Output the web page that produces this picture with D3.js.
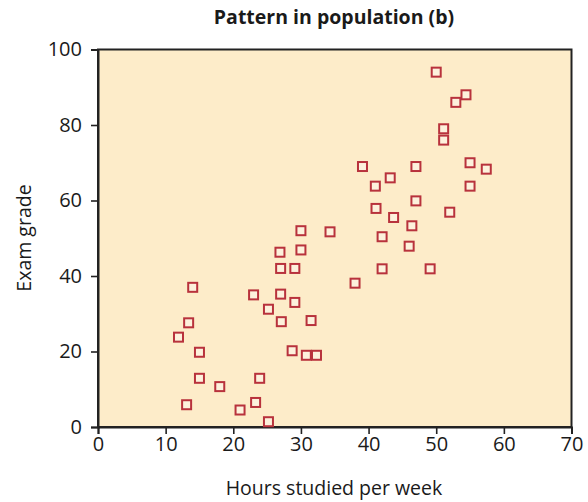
<!DOCTYPE html>
<html>
<head>
<meta charset="utf-8">
<script src="https://cdn.jsdelivr.net/npm/d3@7"></script>
<style>
  body { margin: 0; background: #fff; }
  svg { font-family: "Open Sans", "Noto Sans", sans-serif; }
</style>
</head>
<body>
<svg width="588" height="502"></svg>
<script>
// Hours studied per week vs exam grade
const hours = [50, 54.4, 52.9, 51.1, 51.1, 39.1, 47, 55, 57.4, 43.2, 41, 55, 47, 41.1, 52, 43.7,
    46.4, 42, 46, 42, 49.1, 38, 34.3, 30, 26.9, 30, 27, 29.1, 14, 23, 27, 29.1, 25.2, 27.1,
    31.5, 13.4, 11.9, 15, 28.7, 30.8, 32.3, 15, 23.9, 18, 13.1, 23.3, 21, 25.2];
const grades = [94, 88, 86, 79, 76, 69, 69, 70, 68.3, 66, 63.8, 63.8, 59.9, 57.9, 56.9, 55.5,
    53.3, 50.4, 47.9, 41.9, 41.9, 38.1, 51.7, 52, 46.3, 46.9, 42, 42, 37, 35, 35.2, 33, 31.2, 27.9,
    28.2, 27.6, 23.8, 19.8, 20.2, 19, 19, 12.9, 12.9, 10.7, 5.9, 6.5, 4.5, 1.4];
const xTicks = [0, 10, 20, 30, 40, 50, 60, 70];
const yTicks = [0, 20, 40, 60, 80, 100];

const data = hours.map((h, i) => ({ x: h, y: grades[i] }));

const svg = d3.select("svg");
const plotL = 98, plotR = 571.5, plotT = 49.5, plotB = 427;

const x = d3.scaleLinear().domain([0, 70]).range([plotL, plotR]);
const y = d3.scaleLinear().domain([0, 100]).range([plotB, plotT]);

// plot background
svg.append("rect")
    .attr("x", plotL).attr("y", plotT)
    .attr("width", plotR - plotL).attr("height", plotB - plotT)
    .attr("fill", "#fdecc9")
    .attr("stroke", "#222").attr("stroke-width", 2);

// axes
const xAxis = svg.append("g")
    .attr("transform", "translate(0," + plotB + ")")
    .call(d3.axisBottom(x).tickValues(xTicks).tickSize(7).tickPadding(3));
const yAxis = svg.append("g")
    .attr("transform", "translate(" + plotL + ",0)")
    .call(d3.axisLeft(y).tickValues(yTicks).tickSize(7).tickPadding(9));

[xAxis, yAxis].forEach(g => {
    g.select(".domain").attr("stroke", "#222").attr("stroke-width", 2);
    g.selectAll(".tick line").attr("stroke", "#222").attr("stroke-width", 1.6);
    g.selectAll(".tick text")
        .attr("fill", "#1a1a1a")
        .style("font-size", "20px")
        .style("font-family", "'Open Sans', sans-serif");
});

// points
svg.append("g")
    .selectAll("rect")
    .data(data)
    .join("rect")
    .attr("x", d => x(d.x) - 4.5)
    .attr("y", d => y(d.y) - 4.5)
    .attr("width", 9)
    .attr("height", 9)
    .attr("fill", "#fdf1dc")
    .attr("stroke", "#b8323c")
    .attr("stroke-width", 2);

// title
svg.append("text")
    .attr("x", 334).attr("y", 24)
    .attr("text-anchor", "middle")
    .attr("font-weight", "bold")
    .attr("font-size", 19.5)
    .attr("fill", "#1a1a1a")
    .text("Pattern in population (b)");

// axis labels
svg.append("text")
    .attr("x", 334).attr("y", 495)
    .attr("text-anchor", "middle")
    .attr("font-size", 19.5)
    .attr("fill", "#1a1a1a")
    .text("Hours studied per week");

svg.append("text")
    .attr("transform", "translate(31,238) rotate(-90)")
    .attr("text-anchor", "middle")
    .attr("font-size", 19.5)
    .attr("fill", "#1a1a1a")
    .text("Exam grade");
</script>
</body>
</html>
